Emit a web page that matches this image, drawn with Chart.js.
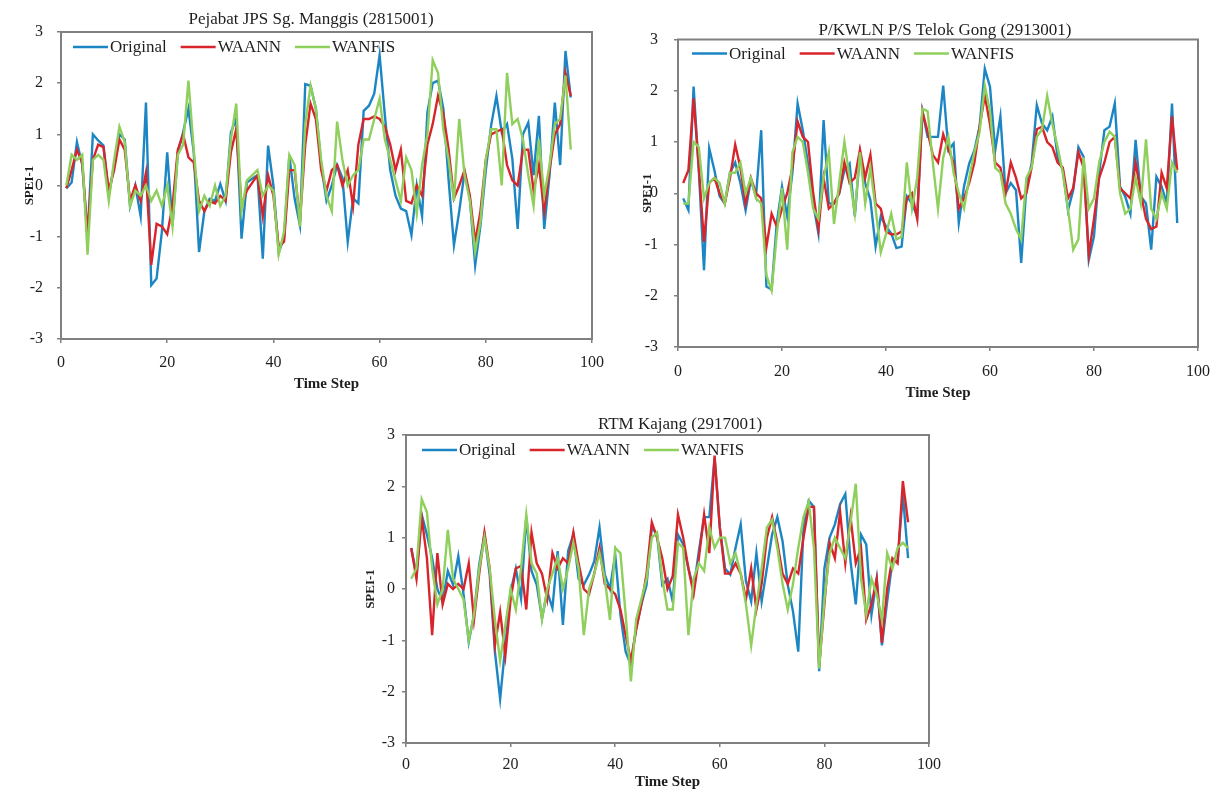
<!DOCTYPE html>
<html>
<head>
<meta charset="utf-8">
<script src="https://cdn.jsdelivr.net/npm/chart.js@4.4.1/dist/chart.umd.min.js"></script>
<style>
  html, body { margin: 0; padding: 0; background: #fff; }
  body { width: 1221px; height: 794px; position: relative; overflow: hidden; }
  canvas { position: absolute; }
</style>
</head>
<body>
<canvas id="c1" width="620" height="400" style="left:0px;top:0px"></canvas>
<canvas id="c2" width="601" height="410" style="left:620px;top:0px"></canvas>
<canvas id="c3" width="610" height="389" style="left:340px;top:405px"></canvas>
<script>
// ---- data ----
const timeSteps = [1,2,3,4,5,6,7,8,9,10,11,12,13,14,15,16,17,18,19,20,
  21,22,23,24,25,26,27,28,29,30,31,32,33,34,35,36,37,38,39,40,
  41,42,43,44,45,46,47,48,49,50,51,52,53,54,55,56,57,58,59,60,
  61,62,63,64,65,66,67,68,69,70,71,72,73,74,75,76,77,78,79,80,
  81,82,83,84,85,86,87,88,89,90,91,92,93,94,95,96];

const seriesNames = ['Original', 'WAANN', 'WANFIS'];
const yTicks = [-3, -2, -1, 0, 1, 2, 3];
const xTicks = [0, 20, 40, 60, 80, 100];

// Pejabat JPS Sg. Manggis (2815001)
const title1 = 'Pejabat JPS Sg. Manggis (2815001)';
const original1 = [-0.06, 0.06, 0.85, 0.4, -1.0, 1.0, 0.88, 0.78, -0.2, 0.4,
  1.0, 0.9, -0.4, 0.0, -0.6, 1.62, -1.95, -1.82, -0.9, 0.65,
  -0.78, 0.65, 1.04, 1.5, 0.65, -1.3, -0.5, -0.26, -0.3, 0.03,
  -0.3, 1.04, 1.3, -1.04, 0.06, 0.13, 0.2, -1.43, 0.78, 0.0,
  -1.3, -1.04, 0.58, -0.26, -0.78, 1.98, 1.95, 1.5, 0.4, -0.3,
  0.0, 0.4, 0.15, -1.1, -0.25, -0.35, 1.46, 1.56, 1.8, 2.55,
  1.36, 0.3, -0.2, -0.45, -0.5, -0.97, 0.0, -0.6, 1.43, 2.0,
  2.05, 1.5, 0.1, -1.17, -0.5, 0.26, -0.26, -1.56, -0.78, 0.3,
  1.17, 1.75, 1.04, 1.2, 0.52, -0.85, 1.0, 1.23, 0.2, 1.36,
  -0.85, 0.2, 1.62, 0.4, 2.63, 1.72];
const waann1 = [-0.05, 0.3, 0.7, 0.45, -0.95, 0.5, 0.8, 0.75, -0.1, 0.3,
  0.9, 0.7, -0.3, 0.0, -0.3, 0.25, -1.55, -0.75, -0.8, -0.95,
  -0.4, 0.7, 1.0, 0.55, 0.45, -0.3, -0.5, -0.3, -0.35, -0.2,
  -0.3, 0.65, 1.1, -0.4, -0.1, 0.05, 0.2, -0.6, 0.2, -0.2,
  -1.2, -1.1, 0.3, 0.3, -0.7, 0.8, 1.6, 1.3, 0.3, -0.1,
  0.3, 0.4, 0.0, 0.3, -0.4, 0.8, 1.3, 1.3, 1.35, 1.3,
  1.15, 0.8, 0.3, 0.7, -0.3, -0.35, 0.0, -0.2, 0.8, 1.2,
  1.75, 1.4, 0.7, -0.25, 0.0, 0.3, -0.2, -1.1, -0.5, 0.5,
  1.0, 1.05, 1.1, 0.4, 0.1, 0.0, 0.7, 0.7, -0.1, 0.4,
  -0.5, 0.3, 1.0, 1.2, 2.2, 1.75];
const wanfis1 = [0.0, 0.6, 0.5, 0.6, -1.35, 0.5, 0.6, 0.5, -0.3, 0.5,
  1.15, 0.85, -0.4, -0.1, -0.2, 0.0, -0.3, -0.1, -0.4, 0.0,
  -0.8, 0.6, 0.8, 2.05, 0.7, -0.5, -0.2, -0.4, 0.0, -0.4,
  -0.2, 0.9, 1.6, -0.5, 0.1, 0.2, 0.3, -0.2, 0.0, -0.1,
  -1.35, -0.9, 0.6, 0.4, -0.8, 1.2, 1.95, 1.5, 0.5, -0.2,
  -0.5, 1.25, 0.5, 0.0, 0.2, 0.3, 0.9, 0.9, 1.3, 1.7,
  0.9, 0.5, 0.1, -0.3, 0.55, 0.3, -0.55, 0.4, 1.0, 2.45,
  2.2, 1.1, 0.5, -0.3, 1.3, 0.2, -0.3, -1.3, -0.7, 0.5,
  1.1, 1.1, 0.0, 2.2, 1.2, 1.3, 0.9, 0.2, -0.4, 0.9,
  -0.2, 0.4, 1.2, 1.3, 2.15, 0.7];

// P/KWLN P/S Telok Gong (2913001)
const title2 = 'P/KWLN P/S Telok Gong (2913001)';
const original2 = [-0.1, -0.33, 2.08, 0.45, -1.5, 0.88, 0.45, -0.06, -0.2, 0.4,
  0.6, 0.2, -0.33, 0.26, -0.06, 1.23, -1.82, -1.88, -0.58, 0.13,
  -0.45, 0.4, 1.75, 1.23, 0.58, -0.2, -0.78, 1.43, -0.2, -0.2,
  0.0, 0.45, 0.58, -0.45, 0.78, 0.2, -0.13, -1.04, -0.45, -0.65,
  -0.78, -1.07, -1.04, -0.06, -0.2, -0.45, 1.6, 1.1, 1.1, 1.1,
  2.1, 0.84, 0.97, -0.58, 0.13, 0.58, 0.84, 1.3, 2.43, 2.08,
  0.84, 1.5, 0.0, 0.2, 0.06, -1.36, 0.13, 0.58, 1.72, 1.36,
  1.23, 1.5, 0.71, 0.45, -0.33, 0.06, 0.9, 0.71, -1.3, -0.84,
  0.4, 1.23, 1.3, 1.75, 0.13, -0.06, -0.4, 1.04, -0.06, -0.2,
  -1.1, 0.32, 0.13, -0.2, 1.75, -0.58];
const waann2 = [0.2, 0.45, 1.85, 0.5, -0.95, 0.2, 0.3, 0.0, -0.2, 0.3,
  0.95, 0.5, -0.2, 0.3, 0.0, -0.1, -1.05, -0.4, -0.65, -0.3,
  0.0, 0.5, 1.4, 1.1, 1.0, 0.0, -0.7, 0.3, -0.3, -0.2,
  0.0, 0.6, 0.2, 0.3, 0.85, 0.3, 0.75, -0.2, -0.3, -0.75,
  -0.8, -0.8, -0.75, -0.1, 0.0, -0.5, 1.6, 1.2, 0.75, 0.6,
  1.15, 0.85, 0.6, -0.3, -0.1, 0.2, 0.6, 1.3, 1.9, 1.35,
  0.6, 0.5, 0.0, 0.6, 0.3, -0.1, 0.0, 0.5, 1.25, 1.3,
  1.0, 0.9, 0.6, 0.5, -0.1, 0.1, 0.8, 0.5, -1.2, -0.5,
  0.3, 0.6, 1.0, 1.1, 0.1, 0.0, -0.1, 0.6, 0.0, -0.5,
  -0.7, -0.65, 0.4, 0.1, 1.5, 0.45];
const wanfis2 = [-0.2, -0.2, 1.0, 0.9, -0.1, 0.2, 0.3, 0.2, -0.2, 0.4,
  0.4, 0.6, 0.0, 0.3, -0.1, -0.2, -1.6, -1.9, -0.8, 0.1,
  -1.1, 0.8, 1.1, 1.0, 0.4, -0.3, -0.5, 0.3, 0.8, -0.6,
  0.2, 1.0, 0.3, -0.4, 0.8, -0.2, 0.5, -0.3, -1.15, -0.8,
  -0.4, -0.9, -0.85, 0.6, -0.3, 0.3, 1.65, 1.6, 0.6, -0.3,
  0.7, 1.1, 0.4, 0.0, -0.3, 0.3, 0.8, 1.2, 2.1, 1.6,
  0.5, 0.4, -0.2, -0.4, -0.7, -0.9, 0.3, 0.5, 1.1, 1.25,
  1.9, 1.35, 0.9, 0.4, -0.3, -1.1, -0.9, 0.7, -0.3, -0.1,
  0.6, 1.0, 1.2, 1.1, 0.0, -0.4, -0.3, 0.3, -0.2, 1.05,
  -0.3, -0.5, 0.0, -0.3, 0.6, 0.4];

// RTM Kajang (2917001)
const title3 = 'RTM Kajang (2917001)';
const original3 = [0.8, 0.28, 1.45, 1.06, 0.6, 0.0, -0.25, 0.35, 0.08, 0.64,
  -0.1, -1.03, -0.5, 0.48, 1.06, 0.28, -1.22, -2.14, -1.1, -0.05,
  0.4, -0.18, 1.4, 0.35, 0.08, -0.57, -0.05, -0.37, 0.74, -0.7,
  0.74, 1.06, 0.2, 0.08, 0.28, 0.54, 1.2, 0.28, 0.0, 0.67,
  -0.5, -1.22, -1.48, -0.76, -0.3, 0.08, 1.2, 1.06, 0.08, 0.2,
  -0.24, 1.06, 0.87, 0.4, 0.0, 0.74, 1.4, 1.4, 2.55, 1.2,
  0.4, 0.28, 0.8, 1.26, 0.15, -0.24, 0.7, -0.24, 0.4, 1.06,
  1.4, 0.93, 0.08, -0.44, -1.22, 1.2, 1.72, 1.6, -1.6, 0.4,
  1.0, 1.26, 1.65, 1.85, 0.54, -0.3, 1.06, 0.87, -0.5, 0.2,
  -1.1, -0.24, 0.54, 0.54, 1.85, 0.6];
const waann3 = [0.8, 0.2, 1.4, 0.6, -0.9, 0.7, -0.3, 0.1, 0.0, 0.1,
  0.0, 0.5, -0.6, 0.3, 1.1, 0.4, -1.1, -0.45, -1.3, -0.2,
  0.4, 0.45, -0.4, 1.1, 0.5, 0.3, -0.2, 0.7, 0.4, 0.6,
  0.5, 1.1, 0.5, 0.0, -0.1, 0.3, 0.8, 0.1, 0.0, -0.1,
  -0.4, -0.9, -1.4, -0.8, -0.3, 0.3, 1.3, 1.0, 0.6, 0.0,
  0.25, 1.45, 1.0, 0.4, -0.1, 0.6, 1.45, 0.7, 2.6, 1.2,
  0.3, 0.3, 0.5, 0.3, -0.2, 0.4, -0.4, 0.1, 1.0, 1.4,
  0.9, 0.3, 0.1, 0.4, 0.3, 1.0, 1.6, 1.6, -1.5, -0.3,
  0.9, 0.6, 1.5, 0.5, 1.4, 0.5, 0.8, -0.6, -0.3, 0.2,
  -1.05, 0.0, 0.6, 0.5, 2.1, 1.3];
const wanfis3 = [0.2, 0.4, 1.75, 1.5, 0.4, -0.3, 0.0, 1.15, 0.2, 0.0,
  -0.2, -1.0, -0.5, 0.4, 1.0, 0.4, -0.6, -1.4, -0.7, 0.0,
  -0.4, 0.4, 1.45, 0.5, 0.3, -0.6, 0.0, 0.3, 0.6, 0.0,
  0.4, 0.9, 0.4, -0.9, 0.0, 0.3, 0.7, 0.2, -0.6, 0.8,
  0.7, -0.5, -1.8, -0.6, -0.2, 0.2, 1.0, 1.1, 0.2, -0.4,
  -0.4, 0.9, 0.8, -0.9, 0.2, 0.5, 0.35, 1.2, 0.8, 1.0,
  1.0, 0.5, 0.7, 0.3, -0.3, -1.1, -0.3, 0.4, 1.2, 1.35,
  0.8, 0.1, -0.4, 0.1, 0.8, 1.4, 1.7, 0.8, -1.55, -0.2,
  0.7, 1.0, 0.8, 0.6, 1.3, 2.05, 0.2, -0.5, 0.2, -0.1,
  -0.6, 0.7, 0.4, 0.8, 0.9, 0.8];

// ---- styling ----
const SERIF = "'Liberation Serif', 'Times New Roman', Times, serif";
const TEXT = '#1e1e1e';
const AXIS = '#808080';
const seriesColors = ['#1c86c4', '#d7252b', '#8fcf5c'];

// Box around the plotting area
const frame = {
  id: 'frame',
  afterDatasetsDraw(chart) {
    const a = chart.chartArea, ctx = chart.ctx;
    ctx.save();
    ctx.strokeStyle = AXIS;
    ctx.lineWidth = 2;
    ctx.strokeRect(a.left, a.top, a.right - a.left, a.bottom - a.top);
    ctx.restore();
  }
};

// Station name above each plot
const heading = {
  id: 'heading',
  afterDraw(chart, args, opts) {
    const ctx = chart.ctx;
    ctx.save();
    ctx.font = '17px ' + SERIF;
    ctx.fillStyle = TEXT;
    ctx.textAlign = 'center';
    ctx.textBaseline = 'middle';
    ctx.fillText(opts.text, opts.x, opts.y);
    ctx.restore();
  }
};

// Legend drawn in a single row inside the top-left of the plot
const innerLegend = {
  id: 'innerLegend',
  afterDraw(chart, args, opts) {
    const a = chart.chartArea, ctx = chart.ctx;
    let x = a.left + opts.dx;
    const y = a.top + opts.dy;
    ctx.save();
    ctx.font = '17px ' + SERIF;
    ctx.textBaseline = 'middle';
    ctx.textAlign = 'left';
    chart.data.datasets.forEach(ds => {
      ctx.strokeStyle = ds.borderColor;
      ctx.lineWidth = 2.5;
      ctx.beginPath();
      ctx.moveTo(x, y);
      ctx.lineTo(x + opts.lineLen, y);
      ctx.stroke();
      x += opts.lineLen + 2;
      ctx.fillStyle = TEXT;
      ctx.fillText(ds.label, x, y + 1);
      x += ctx.measureText(ds.label).width + opts.gap;
    });
    ctx.restore();
  }
};

function buildChart(id, title, values, g) {
  const datasets = values.map((vals, i) => ({
    label: seriesNames[i],
    data: vals,
    borderColor: seriesColors[i],
    backgroundColor: seriesColors[i],
    borderWidth: 2.4,
    pointRadius: 0,
    tension: 0,
    order: 3 - i
  }));
  return new Chart(document.getElementById(id), {
    type: 'line',
    data: { labels: timeSteps, datasets },
    plugins: [frame, heading, innerLegend],
    options: {
      responsive: false,
      animation: false,
      events: [],
      layout: { padding: { top: g.padTop, right: g.padRight, left: 0, bottom: 0 } },
      plugins: {
        legend: { display: false },
        tooltip: { enabled: false },
        heading: { text: title, x: g.titleX, y: g.titleY },
        innerLegend: { dx: g.legendDx, dy: g.legendDy, lineLen: 35, gap: 14 }
      },
      scales: {
        x: {
          type: 'linear',
          min: 0, max: 100,
          afterFit: s => { s.height = g.xHeight; },
          afterBuildTicks: s => { s.ticks = xTicks.map(v => ({ value: v })); },
          border: { display: false },
          grid: { display: true, drawOnChartArea: false, drawTicks: true, tickLength: 4, color: AXIS, lineWidth: 1.5 },
          ticks: { color: TEXT, padding: g.xTickPad, maxRotation: 0, font: { family: SERIF, size: 16 } },
          title: { display: true, text: 'Time Step', color: TEXT, padding: { top: 0, bottom: g.xTitlePad },
                   font: { family: SERIF, size: 15, weight: 'bold' } }
        },
        y: {
          min: -3, max: 3,
          afterFit: s => { s.width = g.yWidth; },
          afterBuildTicks: s => { s.ticks = yTicks.map(v => ({ value: v })); },
          border: { display: false },
          grid: { display: true, drawOnChartArea: false, drawTicks: true, tickLength: 4, color: AXIS, lineWidth: 1.5 },
          ticks: { color: TEXT, padding: g.yTickPad, font: { family: SERIF, size: 16 } },
          title: { display: true, text: 'SPEI-1', color: TEXT, padding: { top: g.yTitlePad, bottom: 0 },
                   font: { family: SERIF, size: 13, weight: 'bold' } }
        }
      }
    }
  });
}

buildChart('c1', title1, [original1, waann1, wanfis1], {
  padTop: 32, padRight: 28, yWidth: 61, xHeight: 61,
  yTitlePad: 21.6, xTitlePad: 7, xTickPad: 10, yTickPad: 14,
  titleX: 311, titleY: 20, legendDx: 12, legendDy: 15
});
buildChart('c2', title2, [original2, waann2, wanfis2], {
  padTop: 39.5, padRight: 21, yWidth: 58, xHeight: 63,
  yTitlePad: 19.6, xTitlePad: 8, xTickPad: 11, yTickPad: 16,
  titleX: 325, titleY: 31, legendDx: 14, legendDy: 14
});
buildChart('c3', title3, [original3, waann3, wanfis3], {
  padTop: 30, padRight: 21, yWidth: 66, xHeight: 51,
  yTitlePad: 23, xTitlePad: 3, xTickPad: 8, yTickPad: 7,
  titleX: 340, titleY: 20, legendDx: 16, legendDy: 15
});
</script>
</body>
</html>
